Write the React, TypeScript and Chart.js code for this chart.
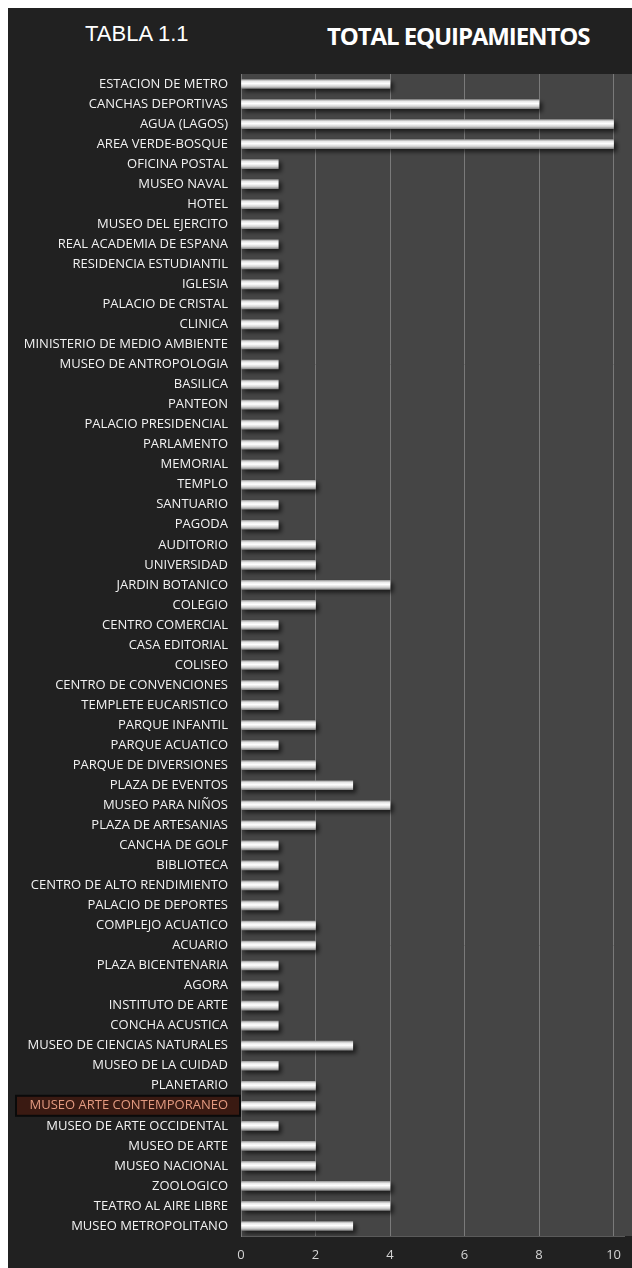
import React, { useEffect, useRef } from "react";
import { Chart, registerables } from "chart.js";

Chart.register(...registerables);

const categories: string[] = [
  "ESTACION DE METRO",
  "CANCHAS DEPORTIVAS",
  "AGUA (LAGOS)",
  "AREA VERDE-BOSQUE",
  "OFICINA POSTAL",
  "MUSEO NAVAL",
  "HOTEL",
  "MUSEO DEL EJERCITO",
  "REAL ACADEMIA DE ESPANA",
  "RESIDENCIA ESTUDIANTIL",
  "IGLESIA",
  "PALACIO DE CRISTAL",
  "CLINICA",
  "MINISTERIO DE MEDIO AMBIENTE",
  "MUSEO DE ANTROPOLOGIA",
  "BASILICA",
  "PANTEON",
  "PALACIO PRESIDENCIAL",
  "PARLAMENTO",
  "MEMORIAL",
  "TEMPLO",
  "SANTUARIO",
  "PAGODA",
  "AUDITORIO",
  "UNIVERSIDAD",
  "JARDIN BOTANICO",
  "COLEGIO",
  "CENTRO COMERCIAL",
  "CASA EDITORIAL",
  "COLISEO",
  "CENTRO DE CONVENCIONES",
  "TEMPLETE EUCARISTICO",
  "PARQUE INFANTIL",
  "PARQUE ACUATICO",
  "PARQUE DE DIVERSIONES",
  "PLAZA DE EVENTOS",
  "MUSEO PARA NIÑOS",
  "PLAZA DE ARTESANIAS",
  "CANCHA DE GOLF",
  "BIBLIOTECA",
  "CENTRO DE ALTO RENDIMIENTO",
  "PALACIO DE DEPORTES",
  "COMPLEJO ACUATICO",
  "ACUARIO",
  "PLAZA BICENTENARIA",
  "AGORA",
  "INSTITUTO DE ARTE",
  "CONCHA ACUSTICA",
  "MUSEO DE CIENCIAS NATURALES",
  "MUSEO DE LA CUIDAD",
  "PLANETARIO",
  "MUSEO ARTE CONTEMPORANEO",
  "MUSEO DE ARTE OCCIDENTAL",
  "MUSEO DE ARTE",
  "MUSEO NACIONAL",
  "ZOOLOGICO",
  "TEATRO AL AIRE LIBRE",
  "MUSEO METROPOLITANO",
];

const values: number[] = [
  4, 8, 10, 10, 1, 1, 1, 1, 1, 1,
  1, 1, 1, 1, 1, 1, 1, 1, 1, 1,
  2, 1, 1, 2, 2, 4, 2, 1, 1, 1,
  1, 1, 2, 1, 2, 3, 4, 2, 1, 1,
  1, 1, 2, 2, 1, 1, 1, 1, 3, 1,
  2, 2, 1, 2, 2, 4, 4, 3,
];

const xTickValues: number[] = [0, 2, 4, 6, 8, 10];
const highlightedLabel = "MUSEO ARTE CONTEMPORANEO";
const titleLeft = "TABLA 1.1";
const titleRight = "TOTAL EQUIPAMIENTOS";

const FONT = "'Open Sans', 'DejaVu Sans', sans-serif";

const decorPlugin = {
  id: "decor",
  beforeDraw(chart: any) {
    const { ctx, chartArea, width } = chart;
    if (!chartArea) return;
    ctx.save();
    ctx.fillStyle = "#454545";
    ctx.fillRect(chartArea.left, chartArea.top, width - chartArea.left, chartArea.bottom - chartArea.top);
    const idx = categories.indexOf(highlightedLabel);
    const y = chart.scales.y.getPixelForValue(idx);
    ctx.fillStyle = "#3a1a12";
    ctx.fillRect(8, y - 10, chartArea.left - 9, 20);
    ctx.strokeStyle = "#0a0a0a";
    ctx.lineWidth = 2;
    ctx.strokeRect(8, y - 10, chartArea.left - 9, 20);
    ctx.restore();
  },
  beforeDatasetsDraw(chart: any) {
    const ctx = chart.ctx;
    ctx.save();
    ctx.shadowColor = "rgba(0,0,0,0.6)";
    ctx.shadowOffsetX = 3;
    ctx.shadowOffsetY = 3;
    ctx.shadowBlur = 4;
  },
  afterDatasetsDraw(chart: any) {
    chart.ctx.restore();
  },
};

export default function App() {
  const canvasRef = useRef<HTMLCanvasElement | null>(null);

  useEffect(() => {
    if (!canvasRef.current) return;
    const chart = new Chart(canvasRef.current, {
      type: "bar",
      data: {
        labels: categories,
        datasets: [
          {
            data: values,
            barThickness: 9,
            borderWidth: 0,
            backgroundColor: (c: any) => {
              const ch = c.chart;
              const ys = ch.scales && ch.scales.y;
              if (!ch.chartArea || !ys) return "#f4f4f4";
              const y = ys.getPixelForValue(c.dataIndex);
              if (!isFinite(y)) return "#f4f4f4";
              const g = ch.ctx.createLinearGradient(0, y - 4.5, 0, y + 4.5);
              g.addColorStop(0, "#a0a0a0");
              g.addColorStop(0.2, "#e8e8e8");
              g.addColorStop(0.45, "#ffffff");
              g.addColorStop(0.75, "#d4d4d4");
              g.addColorStop(1, "#8a8a8a");
              return g;
            },
          },
        ],
      },
      options: {
        indexAxis: "y",
        animation: false,
        responsive: false,
        maintainAspectRatio: false,
        layout: { padding: { top: 66, left: 0, right: 0, bottom: 0 } },
        plugins: {
          legend: { display: false },
          tooltip: { enabled: false },
          title: { display: false },
        },
        scales: {
          x: {
            type: "linear",
            min: 0,
            max: 10.3,
            afterFit: (s: any) => {
              s.height = 32;
            },
            afterBuildTicks: (s: any) => {
              s.ticks = xTickValues.map((v) => ({ value: v }));
            },
            ticks: {
              stepSize: 2,
              includeBounds: false,
              color: "#d4d4d4",
              font: { family: FONT, size: 13 },
              padding: 11,
            },
            grid: { color: "#7a7a7a", lineWidth: 1, drawTicks: false },
            border: { display: true, color: "#5a5a5a" },
          },
          y: {
            type: "category",
            afterFit: (s: any) => {
              s.width = 233;
            },
            ticks: {
              autoSkip: false,
              padding: 13,
              color: (c: any) =>
                categories[c.index] === highlightedLabel ? "#e39a80" : "#f2f2f2",
              font: { family: FONT, size: 13 },
            },
            grid: { display: false, drawTicks: false },
            border: { display: true, color: "#7a7a7a" },
          },
        },
      },
      plugins: [decorPlugin],
    } as any);
    return () => chart.destroy();
  }, []);

  return (
    <div
      style={{
        position: "absolute",
        left: 8,
        top: 8,
        width: 624,
        height: 1260,
        background: "#212121",
        overflow: "hidden",
      }}
    >
      <div
        style={{
          position: "absolute",
          left: 77,
          top: 11,
          color: "#ffffff",
          fontFamily: "'Liberation Sans', Arial, sans-serif",
          fontSize: 22,
          lineHeight: "30px",
          whiteSpace: "nowrap",
        }}
      >
        {titleLeft}
      </div>
      <div
        style={{
          position: "absolute",
          left: 319,
          top: 13,
          color: "#ffffff",
          fontFamily: FONT,
          fontWeight: 700,
          fontSize: 24,
          letterSpacing: "-1.1px",
          lineHeight: "30px",
          whiteSpace: "nowrap",
        }}
      >
        {titleRight}
      </div>
      <canvas
        ref={canvasRef}
        width={624}
        height={1260}
        style={{ position: "absolute", left: 0, top: 0, width: 624, height: 1260 }}
      />
    </div>
  );
}
